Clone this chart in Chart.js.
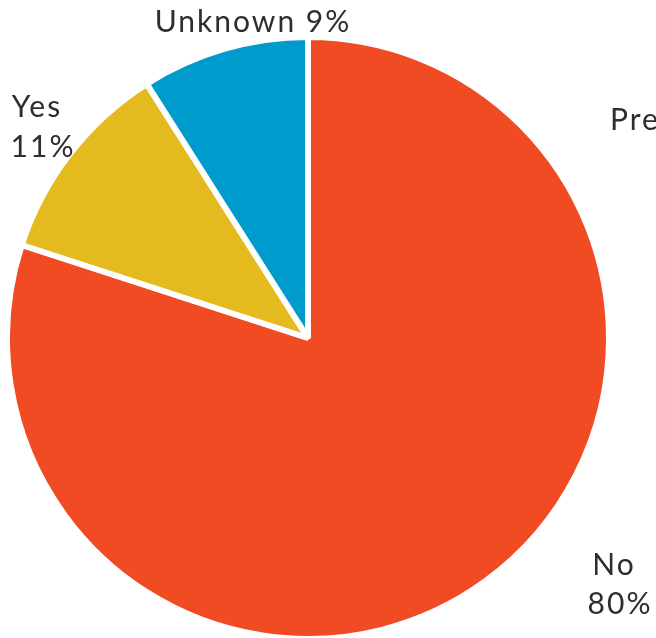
<!DOCTYPE html>
<html>
<head>
<meta charset="utf-8">
<title>Pie</title>
<script src="https://cdn.jsdelivr.net/npm/chart.js@4.4.0/dist/chart.umd.min.js"></script>
<style>
    html, body { margin: 0; padding: 0; background: #fff; }
    #wrap { position: relative; width: 656px; height: 638px; overflow: hidden; }
</style>
</head>
<body>
<div id="wrap"><canvas id="pieChart"></canvas></div>
<script>
// ---- Data ----
const categories = ['No', 'Yes', 'Unknown'];
const values     = [80, 11, 9];
const colors     = ['#F04B23', '#E4BA1E', '#009BCD'];

// ---- Label placement (px, text centre / baseline) ----
const labelSpots = {
    No:      [{ x: 614, y: 575 }, { x: 620, y: 614 }],
    Yes:     [{ x: 37,  y: 117 }, { x: 43,  y: 157 }],
    Unknown: [{ x: 253, y: 32, inline: true }],
};

const FONT = '30px Lato, "DejaVu Sans", sans-serif';

const sliceLabels = {
    id: 'sliceLabels',
    afterDraw(chart) {
        const ctx = chart.ctx;
        ctx.save();
        ctx.font = FONT;
        ctx.letterSpacing = '2px';
        ctx.fillStyle = '#2E2E2E';
        ctx.textAlign = 'center';
        ctx.textBaseline = 'alphabetic';
        categories.forEach((cat, i) => {
            const spots = labelSpots[cat];
            const pct = values[i] + '%';
            if (spots[0].inline) {
                ctx.fillText(cat + ' ' + pct, spots[0].x, spots[0].y);
            } else {
                ctx.fillText(cat, spots[0].x, spots[0].y);
                ctx.fillText(pct, spots[1].x, spots[1].y);
            }
        });
        // cut-off text at the right edge
        ctx.textAlign = 'left';
        ctx.fillText('Pre', 610, 130);
        ctx.restore();
    }
};

function initPie() {
    const ctx = document.getElementById('pieChart');
    new Chart(ctx, {
        type: 'pie',
        data: {
            labels: categories,
            datasets: [{
                data: values,
                backgroundColor: colors,
                borderColor: '#ffffff',
                borderWidth: 6,
                hoverOffset: 0,
            }]
        },
        options: {
            responsive: true,
            maintainAspectRatio: false,
            animation: false,
            radius: 301,
            layout: { padding: { left: 0, right: 40, top: 38, bottom: 0 } },
            plugins: {
                legend: { display: false },
                tooltip: { enabled: false }
            }
        },
        plugins: [sliceLabels]
    });
}

document.addEventListener('DOMContentLoaded', initPie);
</script>
</body>
</html>
